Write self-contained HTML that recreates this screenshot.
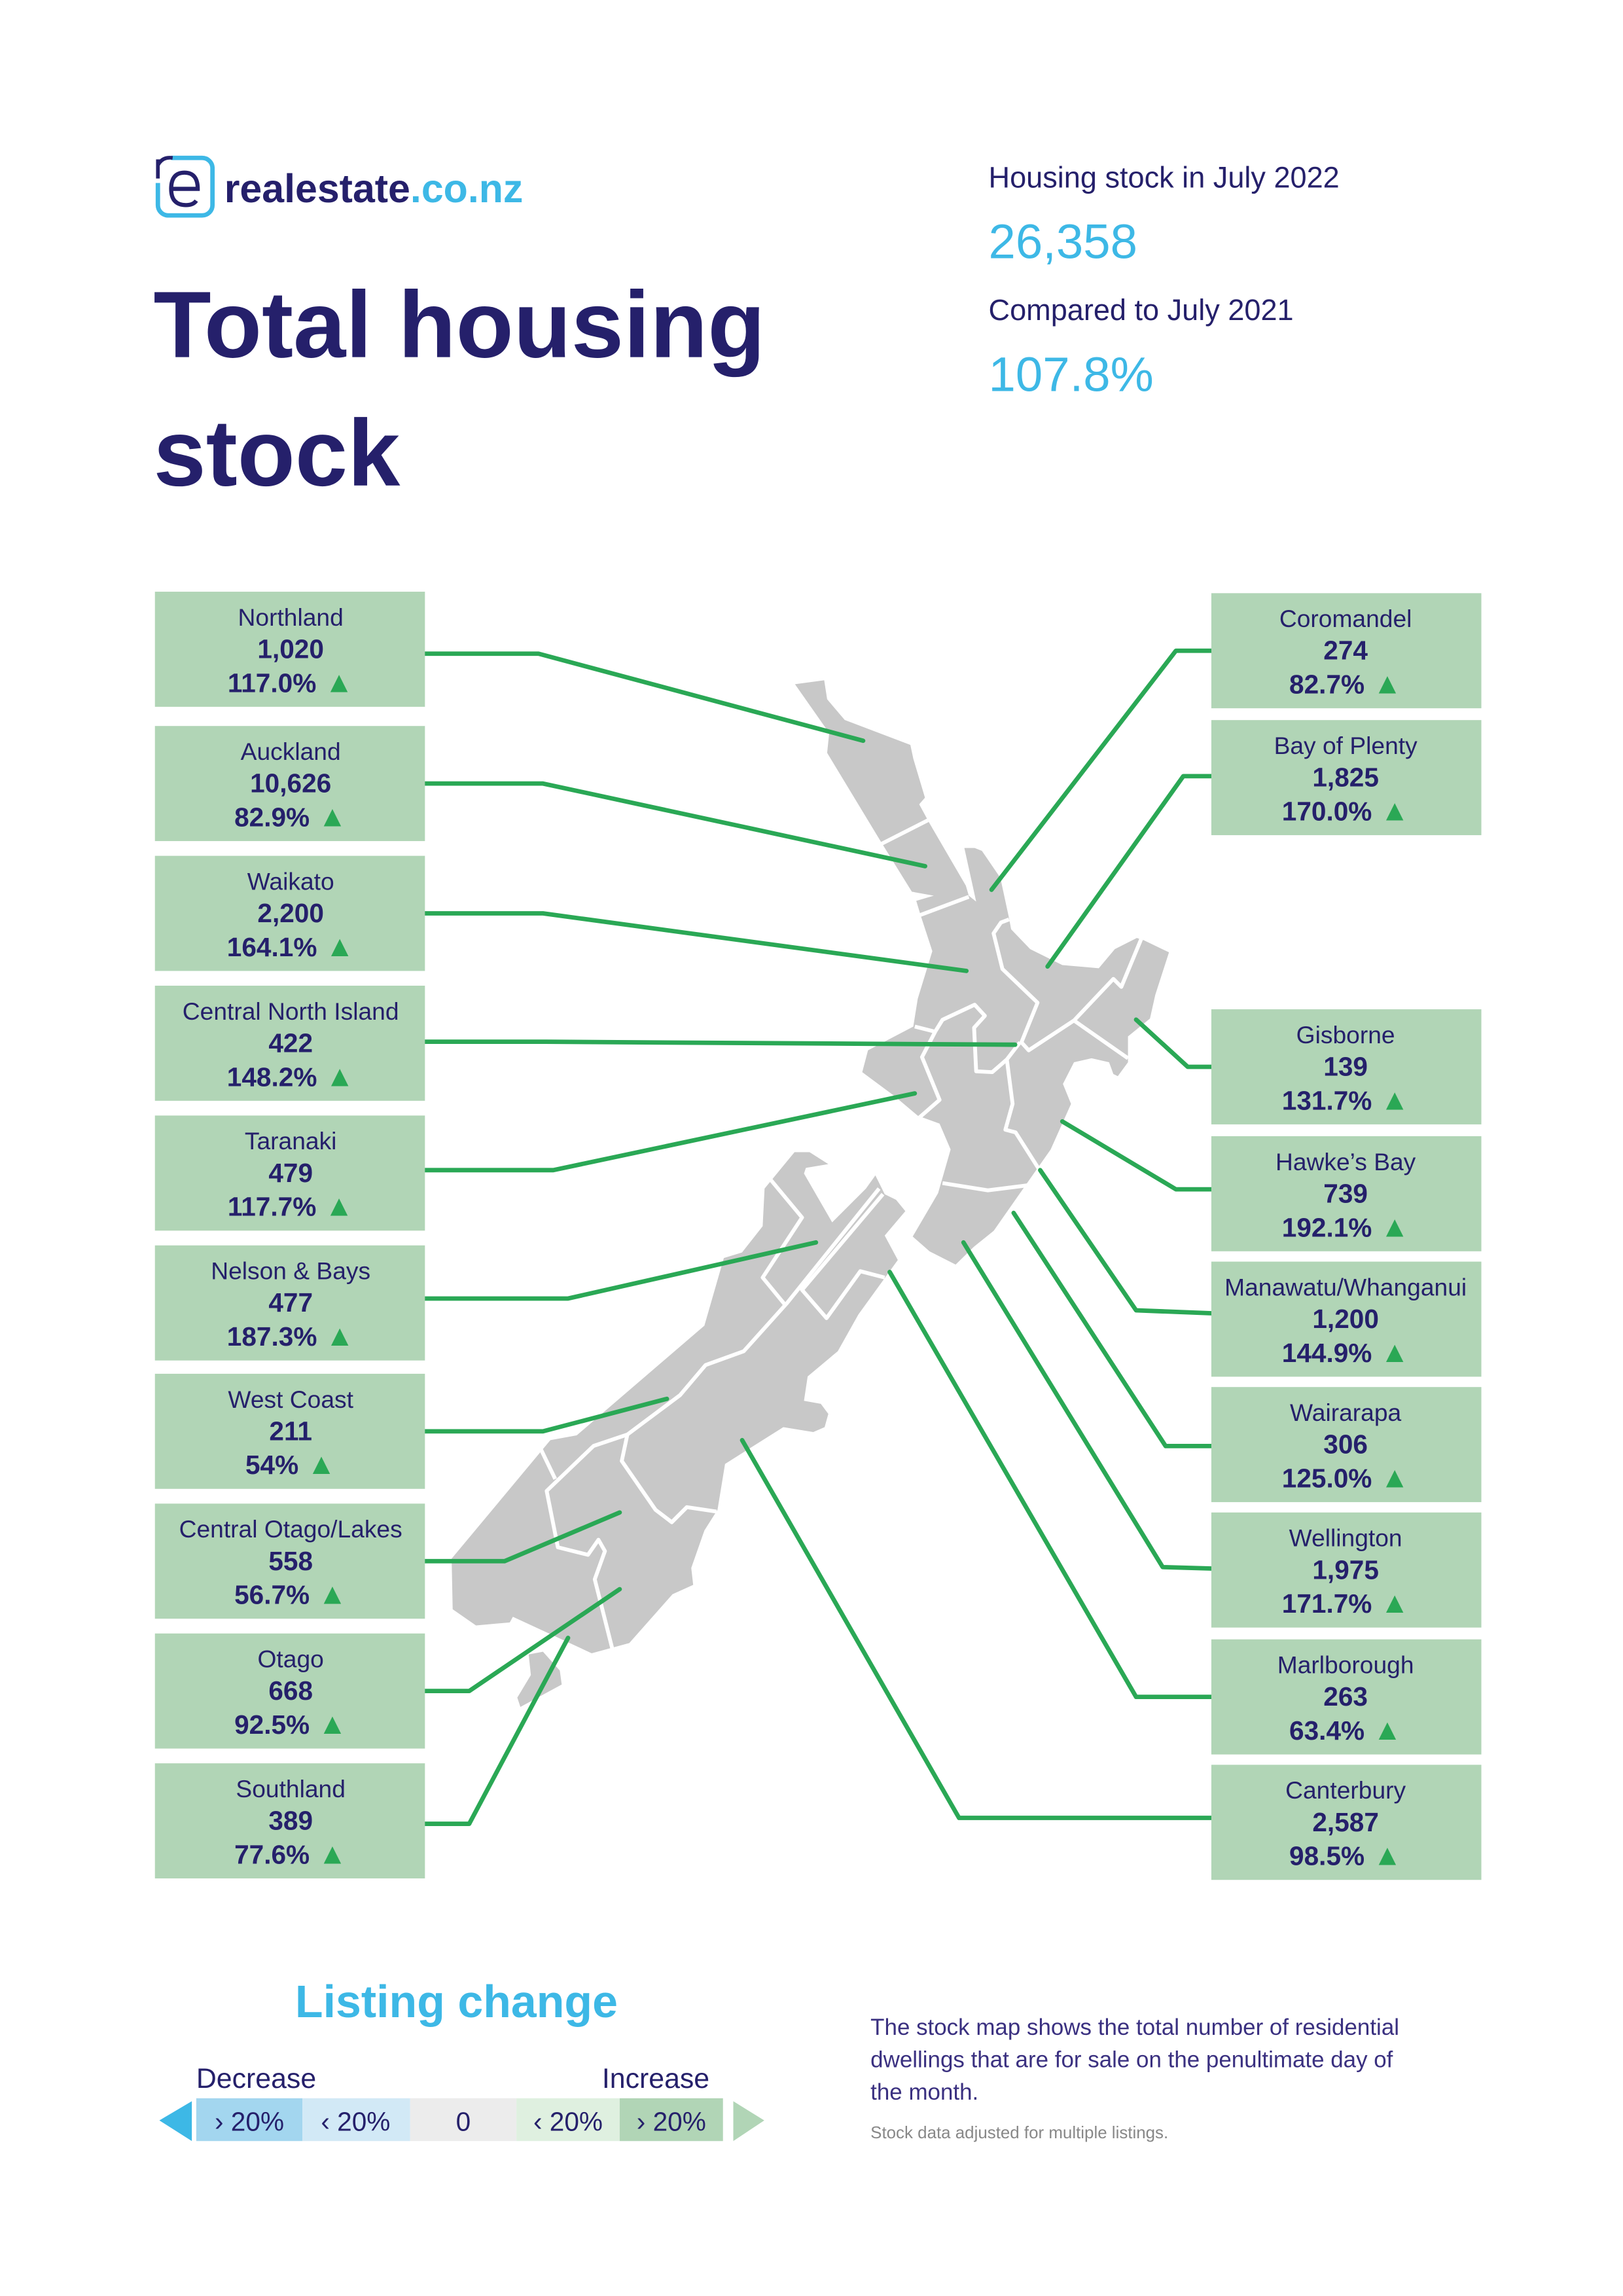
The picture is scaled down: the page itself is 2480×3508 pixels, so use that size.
<!DOCTYPE html>
<html><head><meta charset="utf-8"><style>
html,body{margin:0;padding:0;background:#fff}
svg{display:block}
text{font-family:"Liberation Sans","DejaVu Sans",sans-serif;fill:#25206b}
.n{font-size:16.5px}
.v{font-size:18px;font-weight:bold}
.t{fill:#2aa855;font-size:20px}
</style></head><body>
<svg width="2480" height="3508" viewBox="0 0 1100 1556" xmlns="http://www.w3.org/2000/svg">
<rect width="1100" height="1556" fill="#fff"/>
<rect x="107" y="107" width="37" height="39" rx="7" fill="none" stroke="#3db8e6" stroke-width="3"/>
<rect x="104" y="104" width="12" height="20" fill="#fff"/>
<path d="M107 108 L107 121 M107 112 Q110 106 117 107" stroke="#25206b" stroke-width="2.5" fill="none"/>
<path d="M116 128 L134 128 Q134 117 125 117 Q116 117 116 128 Q116 139 126 139 Q131 139 133 136" stroke="#25206b" stroke-width="2.8" fill="none"/>
<text x="152" y="137" style="font-size:27px;font-weight:bold">realestate<tspan style="fill:#3db8e6">.co.nz</tspan></text>
<text x="104" y="242" style="font-size:64px;font-weight:bold">Total housing</text>
<text x="104" y="329" style="font-size:64px;font-weight:bold">stock</text>
<text x="670" y="127" style="font-size:20px">Housing stock in July 2022</text>
<text x="670" y="175" style="font-size:33px;fill:#3db8e6">26,358</text>
<text x="670" y="217" style="font-size:20px">Compared to July 2021</text>
<text x="670" y="265" style="font-size:33px;fill:#3db8e6">107.8%</text>

<g fill="#c8c8c8">
<polygon points="538.8,463.7 558.6,461 560.6,473.9 572.5,487.9 617,504.8 619,514.2 626.9,540.6 623,545.1 629.9,557.8 654.6,600.2 656.6,607 661.6,611 653.6,574.7 660.6,574.7 665.5,576.6 678,594.9 683.9,622.3 685.3,629.8 698.2,643.2 720,654 744.7,656.2 755.6,643.2 770.5,635.7 775.4,637.3 792.3,645.4 783,674.2 779.4,690.3 764.5,702.4 764.5,719.9 757.6,729.3 754.6,727.9 751.7,719.9 739.8,717.2 727.9,719.9 720.4,734.6 725.9,748.1 712.1,779 694.2,804.5 673.5,834.1 660,845 647.7,857 630,848 618.6,838 635.8,808.6 644.3,779 636.8,761.5 622,756.1 606.1,742.7 584.4,726.6 588.3,711.8 619,695.7 622,676.9 631.9,644.6 624,620.4 621,610.5 632.9,607 618,604.3 597.2,570.7 560.6,510.2 562,496.8"/>
<polygon points="538.5,780.8 548.7,780.8 561.4,788.9 546.2,791.5 544.9,795.3 564,828.4 586.9,805.5 593.3,796.6 597.1,804.2 599.6,809.3 607.3,813.1 613.6,820.8 599.6,837.3 608.5,853.9 581.8,890.8 567.8,915.7 547.4,932.8 544.9,949.3 556.3,951.4 561.4,958.2 558.9,967.2 551.2,970.5 530.9,967.2 491.4,992.1 486.3,1023.2 477.4,1037.2 468.5,1062.6 469.8,1074.1 455.8,1080.4 426.5,1113.5 401,1120.4 347.6,1095.7 345.5,1099.5 322.6,1101.6 306.8,1090.6 306.1,1056.3 373,976 390.9,972.7 477.4,898.4 490.6,852.6 502.9,848.8 516.9,831 518.2,805.5"/>
<polygon points="358.3,1121.2 368,1119.4 379.4,1132.1 380.7,1141.6 352.7,1156.8 350.6,1150.5 359.8,1135.2"/>
</g>
<g fill="none" stroke="#fff" stroke-width="2.6" stroke-linejoin="round">
<polyline points="597.2,572 628.9,555.9"/>
<polyline points="622.9,620.4 656.6,607.8"/>
<polyline points="683.9,623.1 678.4,625.2 673.4,632.5 679.4,656.7 703.2,679.5 692.3,706.4 697.2,711.8 727.9,691.6 754.6,663.4 760,668.8 773.4,636.5"/>
<polyline points="727.9,691.6 764.5,717.2"/>
<polyline points="620,695.7 633.8,699.2 638.8,691.1 660.6,680.9 667.5,688.4 660.2,696.5 661.6,726 672.5,726.6 682.4,718 691.3,706.4"/>
<polyline points="633.8,699.2 624.9,716.4 636.8,745.4 622.9,757.5"/>
<polyline points="682.4,718 686.3,748.1 681.4,765.6 688.3,767.4 705.1,793.8"/>
<polyline points="638.8,801.8 669.5,806.7 697.2,803.2"/>
<polyline points="522,799.1 543.6,825.1 516.9,865.8 532.2,884.4"/>
<polyline points="595.8,805.5 533.4,883.1 504.1,915.7 478.2,925.1 460.9,945.5 425.2,972.2 402.3,979.9 370.5,1010.4 378.1,1048.6 398.5,1053.7 405.6,1043.5 410,1051.2 403.1,1070.3 415,1117.4"/>
<polyline points="598.4,809.3 543.6,874.2 560.2,893.3 583.1,861.5 599.6,865.8"/>
<polyline points="366.7,982.4 376.3,1002.3"/>
<polyline points="425.2,972.2 421.4,990.1 444.3,1023.2 455.3,1031.6 465.5,1021.4 485.6,1024.4"/>
</g>

<g fill="none" stroke="#2aa855" stroke-width="3" stroke-linecap="round" stroke-linejoin="round">
<polyline points="288,443 365,443 585,502"/>
<polyline points="288,531 368,531 627,587"/>
<polyline points="288,619 368,619 655,658"/>
<polyline points="288,706 370,706 688,708"/>
<polyline points="288,793 375,793 620,741"/>
<polyline points="288,880 385,880 553,842"/>
<polyline points="288,970 368,970 452,948"/>
<polyline points="288,1058 342,1058 420,1025"/>
<polyline points="288,1146 318,1146 420,1077"/>
<polyline points="288,1236 318,1236 385,1110"/>
<polyline points="821,441 797,441 672,603"/>
<polyline points="821,526 802,526 710,655"/>
<polyline points="821,723 805,723 770,691"/>
<polyline points="821,806 797,806 720,760"/>
<polyline points="821,890 770,888 705,793"/>
<polyline points="821,980 790,980 687,822"/>
<polyline points="821,1063 788,1062 653,842"/>
<polyline points="821,1150 770,1150 603,862"/>
<polyline points="821,1232 650,1232 503,976"/>
</g>

<g fill="#b1d5b6">
<rect x="105" y="401" width="183" height="78"/><rect x="105" y="492" width="183" height="78"/>
<rect x="105" y="580" width="183" height="78"/><rect x="105" y="668" width="183" height="78"/>
<rect x="105" y="756" width="183" height="78"/><rect x="105" y="844" width="183" height="78"/>
<rect x="105" y="931" width="183" height="78"/><rect x="105" y="1019" width="183" height="78"/>
<rect x="105" y="1107" width="183" height="78"/><rect x="105" y="1195" width="183" height="78"/>
<rect x="821" y="402" width="183" height="78"/><rect x="821" y="488" width="183" height="78"/>
<rect x="821" y="684" width="183" height="78"/><rect x="821" y="770" width="183" height="78"/>
<rect x="821" y="855" width="183" height="78"/><rect x="821" y="940" width="183" height="78"/>
<rect x="821" y="1025" width="183" height="78"/><rect x="821" y="1111" width="183" height="78"/>
<rect x="821" y="1196" width="183" height="78"/>
</g>
<g text-anchor="middle">
<g transform="translate(197,401)"><text class="n" y="23">Northland</text><text class="v" y="45">1,020</text><text class="v" y="68">117.0%<tspan class="t"> ▲</tspan></text></g>
<g transform="translate(197,492)"><text class="n" y="23">Auckland</text><text class="v" y="45">10,626</text><text class="v" y="68">82.9%<tspan class="t"> ▲</tspan></text></g>
<g transform="translate(197,580)"><text class="n" y="23">Waikato</text><text class="v" y="45">2,200</text><text class="v" y="68">164.1%<tspan class="t"> ▲</tspan></text></g>
<g transform="translate(197,668)"><text class="n" y="23">Central North Island</text><text class="v" y="45">422</text><text class="v" y="68">148.2%<tspan class="t"> ▲</tspan></text></g>
<g transform="translate(197,756)"><text class="n" y="23">Taranaki</text><text class="v" y="45">479</text><text class="v" y="68">117.7%<tspan class="t"> ▲</tspan></text></g>
<g transform="translate(197,844)"><text class="n" y="23">Nelson &amp; Bays</text><text class="v" y="45">477</text><text class="v" y="68">187.3%<tspan class="t"> ▲</tspan></text></g>
<g transform="translate(197,931)"><text class="n" y="23">West Coast</text><text class="v" y="45">211</text><text class="v" y="68">54%<tspan class="t"> ▲</tspan></text></g>
<g transform="translate(197,1019)"><text class="n" y="23">Central Otago/Lakes</text><text class="v" y="45">558</text><text class="v" y="68">56.7%<tspan class="t"> ▲</tspan></text></g>
<g transform="translate(197,1107)"><text class="n" y="23">Otago</text><text class="v" y="45">668</text><text class="v" y="68">92.5%<tspan class="t"> ▲</tspan></text></g>
<g transform="translate(197,1195)"><text class="n" y="23">Southland</text><text class="v" y="45">389</text><text class="v" y="68">77.6%<tspan class="t"> ▲</tspan></text></g>
<g transform="translate(912,402)"><text class="n" y="23">Coromandel</text><text class="v" y="45">274</text><text class="v" y="68">82.7%<tspan class="t"> ▲</tspan></text></g>
<g transform="translate(912,488)"><text class="n" y="23">Bay of Plenty</text><text class="v" y="45">1,825</text><text class="v" y="68">170.0%<tspan class="t"> ▲</tspan></text></g>
<g transform="translate(912,684)"><text class="n" y="23">Gisborne</text><text class="v" y="45">139</text><text class="v" y="68">131.7%<tspan class="t"> ▲</tspan></text></g>
<g transform="translate(912,770)"><text class="n" y="23">Hawke’s Bay</text><text class="v" y="45">739</text><text class="v" y="68">192.1%<tspan class="t"> ▲</tspan></text></g>
<g transform="translate(912,855)"><text class="n" y="23">Manawatu/Whanganui</text><text class="v" y="45">1,200</text><text class="v" y="68">144.9%<tspan class="t"> ▲</tspan></text></g>
<g transform="translate(912,940)"><text class="n" y="23">Wairarapa</text><text class="v" y="45">306</text><text class="v" y="68">125.0%<tspan class="t"> ▲</tspan></text></g>
<g transform="translate(912,1025)"><text class="n" y="23">Wellington</text><text class="v" y="45">1,975</text><text class="v" y="68">171.7%<tspan class="t"> ▲</tspan></text></g>
<g transform="translate(912,1111)"><text class="n" y="23">Marlborough</text><text class="v" y="45">263</text><text class="v" y="68">63.4%<tspan class="t"> ▲</tspan></text></g>
<g transform="translate(912,1196)"><text class="n" y="23">Canterbury</text><text class="v" y="45">2,587</text><text class="v" y="68">98.5%<tspan class="t"> ▲</tspan></text></g>
</g>

<text x="200" y="1367" style="font-size:31px;font-weight:bold;fill:#3db8e6">Listing change</text>
<text x="133" y="1415" style="font-size:19px">Decrease</text>
<text x="408" y="1415" style="font-size:19px">Increase</text>
<rect x="133" y="1422" width="72" height="29" fill="#a3d6ef"/>
<rect x="205" y="1422" width="73" height="29" fill="#d2e9f6"/>
<rect x="278" y="1422" width="72" height="29" fill="#ececec"/>
<rect x="350" y="1422" width="70" height="29" fill="#dff0e0"/>
<rect x="420" y="1422" width="70" height="29" fill="#b1d5b6"/>
<polygon points="108,1437 130,1424 130,1451" fill="#3db8e6"/>
<polygon points="497,1424 518,1437 497,1451" fill="#b1d5b6"/>
<g text-anchor="middle" style="font-size:18px">
<text x="169" y="1444">› 20%</text><text x="241" y="1444">‹ 20%</text><text x="314" y="1444">0</text><text x="385" y="1444">‹ 20%</text><text x="455" y="1444">› 20%</text>
</g>
<text x="590" y="1379" style="font-size:15.5px;fill:#3a3080">The stock map shows the total number of residential</text>
<text x="590" y="1401" style="font-size:15.5px;fill:#3a3080">dwellings that are for sale on the penultimate day of</text>
<text x="590" y="1423" style="font-size:15.5px;fill:#3a3080">the month.</text>
<text x="590" y="1449" style="font-size:11.5px;fill:#888">Stock data adjusted for multiple listings.</text>
</svg>
</body></html>
